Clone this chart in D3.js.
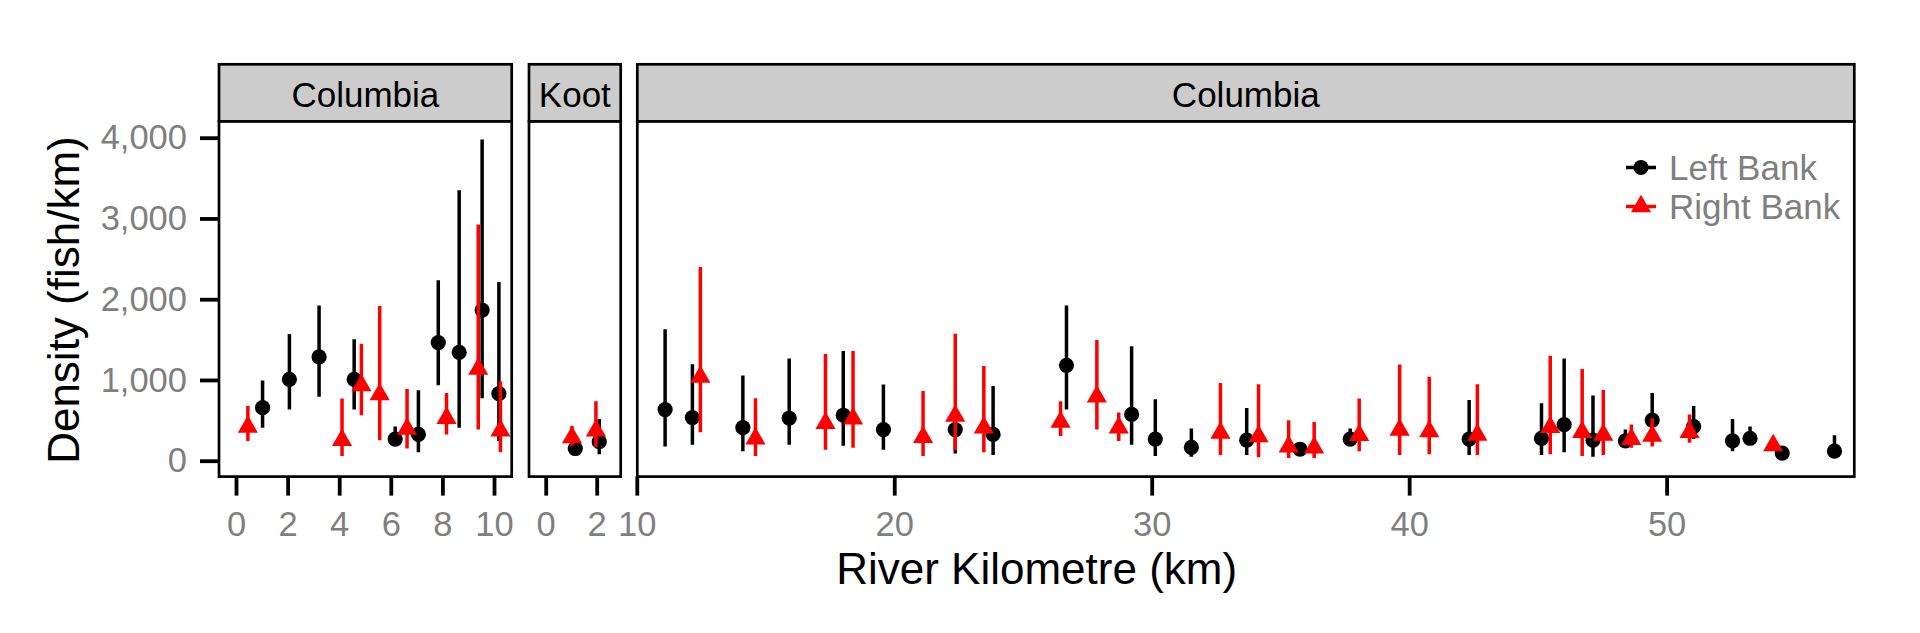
<!DOCTYPE html>
<html><head><meta charset="utf-8">
<script src="https://cdn.jsdelivr.net/npm/d3@7"></script>
<style>
body{margin:0;background:#fff;}
svg{display:block;font-family:"Liberation Sans",Arial,sans-serif;}
</style>
</head><body>
<svg id="chart" width="1920" height="633"></svg>
<script>
// ---------------- DATA ----------------
const panelNames = ["Columbia", "Koot", "Columbia"];
const panelXTicks = [[0, 2, 4, 6, 8, 10], [0, 2], [10, 20, 30, 40, 50]];
const yTicks = [0, 1000, 2000, 3000, 4000];
const seriesNames = ["Left Bank", "Right Bank"];
const xTitle = "River Kilometre (km)";
const yTitle = "Density (fish/km)";

// Left Bank (black circles)
const leftPanel   = [0,0,0,0,0,0,0,0,0,0, 1,1, 2,2,2,2,2,2,2,2,2,2,2,2,2,2,2,2,2,2,2,2,2,2,2,2,2,2];
const leftKm      = [1.03,2.07,3.22,4.58,6.17,7.07,7.84,8.65,9.54,10.19, 1.16,2.10,
                     11.10,12.16,14.12,15.92,18.02,19.58,22.37,23.84,26.69,29.22,30.14,31.54,33.69,35.76,
                     37.71,42.33,45.14,46.02,47.14,48.40,49.44,51.05,52.56,53.24,54.49,56.52];
const leftDensity = [657,1008,1285,1008,268,325,1463,1341,1866,830, 151,236,
                     634,535,409,526,563,385,385,325,1182,573,268,165,254,142,
                     268,268,278,446,254,245,503,423,245,278,95,118];
const leftLower   = [409,634,793,634,198,104,933,409,774,245, 100,81,
                     175,198,118,198,184,137,90,72,634,198,58,48,72,90,
                     198,72,72,104,48,161,268,268,118,198,60,58];
const leftUpper   = [994,1570,1922,1505,423,873,2236,3350,3978,2212, 250,517,
                     1627,1196,1055,1266,1360,943,650,924,1922,1416,760,400,652,220,
                     400,751,713,1266,807,386,840,676,517,423,130,315];

// Right Bank (red triangles)
const rightPanel   = [0,0,0,0,0,0,0,0, 1,1, 2,2,2,2,2,2,2,2,2,2,2,2,2,2,2,2,2,2,2,2,2,2,2,2,2];
const rightKm      = [0.46,4.11,4.86,5.57,6.63,8.16,9.39,10.25, 1.03,1.97,
                      12.47,14.61,17.33,18.40,21.12,22.37,23.48,26.46,27.87,28.72,32.67,34.15,35.32,36.31,
                      38.06,39.63,40.78,42.65,45.48,46.72,47.54,48.63,49.44,50.89,54.14];
const rightDensity = [418,254,933,821,395,526,1135,371, 287,372,
                      1037,273,465,521,292,554,409,479,793,409,343,301,175,161,
                      315,381,362,320,414,353,320,268,306,353,189];
const rightLower   = [245,58,563,254,151,325,385,104, 182,170,
                      353,58,137,161,58,128,104,306,385,245,72,44,34,34,
                      118,72,81,72,81,58,72,161,175,222,130];
const rightUpper   = [676,770,1449,1917,887,840,2924,980, 430,737,
                      2400,774,1322,1360,863,1571,1172,737,1496,596,962,948,502,479,
                      770,1191,1041,948,1299,1135,877,447,526,573,260];

// ---------------- LAYOUT ----------------
const W = 1920, H = 633;
const panelPx = [[219, 511.7], [529, 620.7], [637.3, 1854.3]];
const panelDomains = [[-0.659, 10.686], [-0.655, 2.941], [10.02, 57.29]];
const stripTop = 64.3, plotTop = 121.5, plotBottom = 476.6;
const yDomain = [-198, 4203];
const colors = ["#000000", "#ff0000"];
const tickColor = "#7f7f7f";
const lineW = 3.5, borderW = 2.7, tickW = 3.8, tickLen = 19;

const svg = d3.select("#chart");
svg.append("rect").attr("width", W).attr("height", H).attr("fill", "#fff");

const y = d3.scaleLinear().domain(yDomain).range([476.7, 121.3]);
const xs = panelPx.map((r, i) => d3.scaleLinear().domain(panelDomains[i]).range(r));

const left = leftKm.map((k, i) => ({panel: leftPanel[i], km: k, v: leftDensity[i], lo: leftLower[i], hi: leftUpper[i]}));
const right = rightKm.map((k, i) => ({panel: rightPanel[i], km: k, v: rightDensity[i], lo: rightLower[i], hi: rightUpper[i]}));

const triSym = d3.symbol().type(d3.symbolTriangle).size(176);

panelPx.forEach((r, i) => {
  const x = xs[i];
  const g = svg.append("g");
  // strip
  g.append("rect").attr("x", r[0]).attr("y", stripTop).attr("width", r[1] - r[0]).attr("height", plotTop - stripTop)
    .attr("fill", "#cccccc").attr("stroke", "#000").attr("stroke-width", borderW);
  g.append("text").attr("x", (r[0] + r[1]) / 2).attr("y", 107.3).attr("text-anchor", "middle")
    .attr("font-size", 35).attr("fill", "#000").text(panelNames[i]);
  // panel background
  g.append("rect").attr("x", r[0]).attr("y", plotTop).attr("width", r[1] - r[0]).attr("height", plotBottom - plotTop)
    .attr("fill", "#fff");

  // x axis
  const xAxis = d3.axisBottom(x).tickValues(panelXTicks[i]).tickSize(tickLen).tickPadding(8).tickFormat(d3.format("d"));
  const ax = g.append("g").attr("transform", `translate(0,${plotBottom})`).call(xAxis);
  ax.select(".domain").remove();
  ax.selectAll(".tick line").attr("stroke", "#000").attr("stroke-width", tickW);
  ax.selectAll(".tick text").attr("fill", tickColor).attr("font-size", 34.5)
    .attr("font-family", '"Liberation Sans",Arial,sans-serif').attr("dy", null).attr("y", 59).attr("dominant-baseline", "alphabetic");

  const clipId = "clip" + i;
  svg.append("clipPath").attr("id", clipId).append("rect")
    .attr("x", r[0]).attr("y", plotTop).attr("width", r[1] - r[0]).attr("height", plotBottom - plotTop);
  const dg = g.append("g").attr("clip-path", `url(#${clipId})`);

  const L = left.filter(d => d.panel === i);
  const R = right.filter(d => d.panel === i);
  const lg = dg.append("g");
  lg.selectAll("line").data(L).join("line")
    .attr("x1", d => x(d.km)).attr("x2", d => x(d.km))
    .attr("y1", d => y(d.lo)).attr("y2", d => y(d.hi))
    .attr("stroke", colors[0]).attr("stroke-width", lineW);
  lg.selectAll("circle").data(L).join("circle")
    .attr("cx", d => x(d.km)).attr("cy", d => y(d.v)).attr("r", 7.6).attr("fill", colors[0]);

  const rg = dg.append("g");
  rg.selectAll("line").data(R).join("line")
    .attr("x1", d => x(d.km)).attr("x2", d => x(d.km))
    .attr("y1", d => y(d.lo)).attr("y2", d => y(d.hi))
    .attr("stroke", colors[1]).attr("stroke-width", lineW);
  rg.selectAll("path").data(R).join("path")
    .attr("d", triSym).attr("transform", d => `translate(${x(d.km)},${y(d.v)})`).attr("fill", colors[1]);

  // panel border
  g.append("rect").attr("x", r[0]).attr("y", plotTop).attr("width", r[1] - r[0]).attr("height", plotBottom - plotTop)
    .attr("fill", "none").attr("stroke", "#000").attr("stroke-width", borderW);
});

// y axis (left of first panel)
const yAxis = d3.axisLeft(y).tickValues(yTicks).tickSize(tickLen).tickPadding(13).tickFormat(d3.format(","));
const ya = svg.append("g").attr("transform", `translate(${panelPx[0][0]},0)`).call(yAxis);
ya.select(".domain").remove();
ya.selectAll(".tick line").attr("stroke", "#000").attr("stroke-width", tickW);
ya.selectAll(".tick text").attr("fill", tickColor).attr("font-size", 34.5)
  .attr("font-family", '"Liberation Sans",Arial,sans-serif');

// axis titles
svg.append("text").attr("x", (panelPx[0][0] + panelPx[2][1]) / 2).attr("y", 584)
  .attr("text-anchor", "middle").attr("font-size", 44).attr("fill", "#000").text(xTitle);
svg.append("text").attr("transform", `translate(79,${(plotTop + plotBottom) / 2 + 1}) rotate(-90)`)
  .attr("text-anchor", "middle").attr("font-size", 44).attr("fill", "#000").text(yTitle);

// legend
const legY = [167.5, 206.5];
const lgd = svg.append("g");
seriesNames.forEach((name, i) => {
  const cy = legY[i];
  lgd.append("line").attr("x1", 1626).attr("x2", 1656).attr("y1", cy).attr("y2", cy)
    .attr("stroke", colors[i]).attr("stroke-width", lineW);
  if (i === 0) {
    lgd.append("circle").attr("cx", 1641).attr("cy", cy).attr("r", 7.6).attr("fill", colors[i]);
  } else {
    lgd.append("path").attr("d", triSym).attr("transform", `translate(1641,${cy})`).attr("fill", colors[i]);
  }
  lgd.append("text").attr("x", 1669).attr("y", cy).attr("dominant-baseline", "central")
    .attr("font-size", 35).attr("fill", tickColor).text(name);
});
</script>
</body></html>
